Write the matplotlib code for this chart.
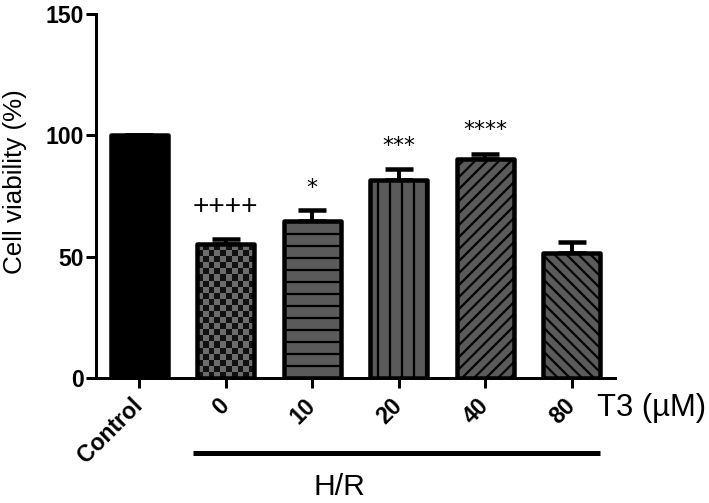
import numpy as np
import matplotlib
matplotlib.use("Agg")
import matplotlib.pyplot as plt
from matplotlib.transforms import blended_transform_factory

plt.rcParams["font.family"] = ["Liberation Sans", "DejaVu Sans"]
plt.rcParams["hatch.linewidth"] = 2.2

# Data
groups = ["Control", "0", "10", "20", "40", "80"]
viability = [100, 55.2, 64.7, 81.6, 90.2, 51.5]
sem = [0, 2.1, 4.5, 4.5, 2.1, 4.5]
hatches = [None, None, "-", "|", "//", "\\\\"]
marks = ["", "++++", "*", "***", "****", ""]
mark_y = [0, 70.5, 81, 98.5, 105, 0]

DPI = 72
fig = plt.figure(figsize=(709 / DPI, 503 / DPI), dpi=DPI)
ax = fig.add_axes([96 / 709, 125 / 503, (615 - 96) / 709, 364 / 503])

x = np.arange(len(groups))
lower = np.zeros(len(sem))
ax.errorbar(x, viability, yerr=[lower, sem], fmt="none", ecolor="black",
            elinewidth=4, capsize=14, capthick=4.5, zorder=2)

bars = ax.bar(x, viability, width=0.66, color="#5a5a5a", edgecolor="black",
              linewidth=4.5, zorder=3)
for b, h in zip(bars, hatches):
    b.set_joinstyle("round")
    if h:
        b.set_hatch(h)
bars[0].set_facecolor("black")

# checkerboard texture for the 0 uM bar
b0 = bars[1]
checker = (np.indices((22, 10)).sum(axis=0) % 2).astype(float)
im = ax.imshow(checker, cmap=matplotlib.colors.ListedColormap(["#6c6c6c", "#111111"]),
               extent=(b0.get_x(), b0.get_x() + b0.get_width(), 0, b0.get_height()),
               aspect="auto", interpolation="nearest", zorder=3)
im.set_clip_path(b0)
b0.set_facecolor("none")
b0.set_zorder(4)

for xi, m, my in zip(x, marks, mark_y):
    if not m:
        continue
    if "+" in m:
        ax.text(xi, my, m, ha="center", va="center", fontsize=28)
    else:
        # asterisk glyph sits high, so place by baseline
        ax.text(xi, my - 5.3, m, ha="center", va="baseline", fontsize=22,
                family=["DejaVu Sans"])

ax.set_xlim(-0.5, 5.5)
ax.set_ylim(0, 150)
ax.set_yticks([0, 50, 100, 150])
ax.set_xticks(x)
ax.set_xticklabels(groups, rotation=45, ha="right", va="center",
                   rotation_mode="anchor", fontsize=23, fontweight="bold")
ax.tick_params(axis="x", length=10, width=3, pad=14)
ax.tick_params(axis="y", length=10, width=3, pad=2, labelsize=23)
for lab in ax.get_yticklabels():
    lab.set_fontweight("bold")
ax.set_ylabel("Cell viability (%)", fontsize=26)
ax.yaxis.set_label_coords(-0.133, 0.54)

for s in ["top", "right"]:
    ax.spines[s].set_visible(False)
for s in ["left", "bottom"]:
    ax.spines[s].set_linewidth(3)

trans = blended_transform_factory(ax.transData, ax.transAxes)
ax.plot([0.62, 5.33], [-0.206, -0.206], color="black", lw=5,
        transform=trans, clip_on=False, solid_capstyle="butt")
ax.text(2.32, -0.30, "H/R", transform=trans, ha="center", va="center", fontsize=30)
ax.text(5.29, -0.082, "T3 (µM)", transform=trans, ha="left", va="center", fontsize=31)

fig.savefig("out.png", dpi=DPI)
